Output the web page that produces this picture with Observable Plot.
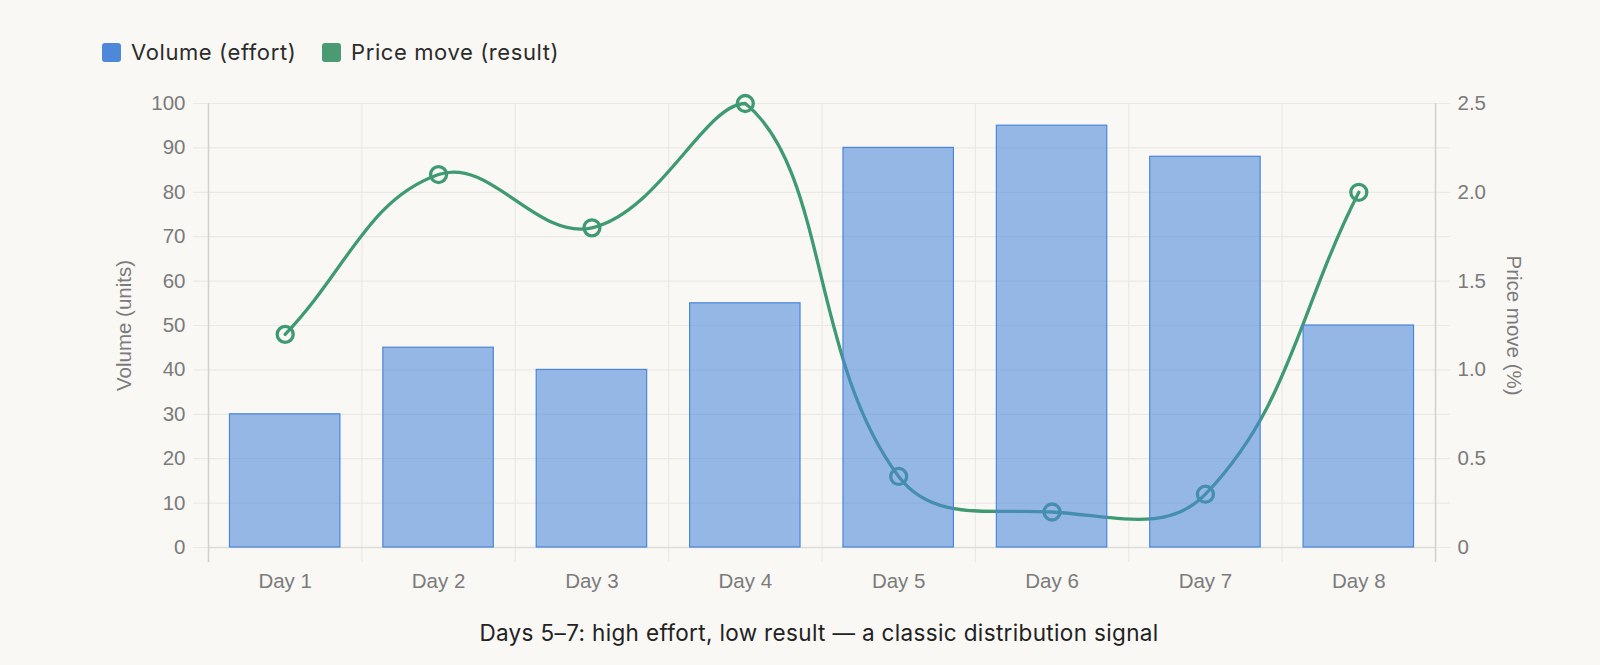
<!DOCTYPE html>
<html>
<head>
<meta charset="utf-8">
<script src="https://cdn.jsdelivr.net/npm/d3@7"></script>
<script src="https://cdn.jsdelivr.net/npm/@observablehq/plot@0.6"></script>
<style>
  html, body { margin: 0; padding: 0; background: #f9f8f5; width: 1600px; height: 665px; overflow: hidden; }
  #legend { height: 80px; position: relative; font-family: Inter, "Noto Sans", sans-serif; font-size: 22px; letter-spacing: 0.6px; color: #2b2b2b; }
  .item { position: absolute; top: 42px; height: 20px; display: flex; align-items: center; white-space: nowrap; }
  .sw { width: 19px; height: 19px; border-radius: 3px; margin-right: 10px; }
  #chart svg { display: block; }
  #caption { height: 65px; line-height: 65px; font-family: Inter, "Noto Sans", sans-serif; font-size: 22.5px; letter-spacing: 0.35px; color: #222; text-align: center; padding-left: 38px; }
</style>
</head>
<body>
<div id="legend"></div>
<div id="chart"></div>
<div id="caption"></div>
<script>
const days = ["Day 1", "Day 2", "Day 3", "Day 4", "Day 5", "Day 6", "Day 7", "Day 8"];
const volume = [30, 45, 40, 55, 90, 95, 88, 50];
const priceMove = [1.2, 2.1, 1.8, 2.5, 0.4, 0.2, 0.3, 2.0];
const volumeTicks = [0, 10, 20, 30, 40, 50, 60, 70, 80, 90, 100];
const priceTicks = [0, 0.5, 1.0, 1.5, 2.0, 2.5];
const seriesNames = ["Volume (effort)", "Price move (result)"];
const seriesColors = ["#4a86da", "#3f9a72"];
const axisTitles = ["Volume (units)", "Price move (%)"];
const captionText = "Days 5–7: high effort, low result — a classic distribution signal";

const volMax = 100, priceMax = 2.5;
const k = volMax / priceMax;

const W = 1600, H = 520, mT = 23, mB = 53, mL = 208, mR = 165;
const plotTop = mT, plotBottom = H - mB;

// Chart.js style spline (tension, distance-weighted), control points capped to chart area
function chartjsCurve(tension, top, bottom) {
  return function (context) {
    let pts = [];
    return {
      areaStart() {}, areaEnd() {},
      lineStart() { pts = []; },
      point(x, y) { pts.push([+x, +y]); },
      lineEnd() {
        const n = pts.length;
        if (!n) return;
        const cps = pts.map((p, i) => {
          const prev = pts[Math.max(0, i - 1)], next = pts[Math.min(n - 1, i + 1)];
          const d01 = Math.hypot(p[0] - prev[0], p[1] - prev[1]);
          const d12 = Math.hypot(next[0] - p[0], next[1] - p[1]);
          let s01 = d01 / (d01 + d12), s12 = d12 / (d01 + d12);
          if (isNaN(s01)) s01 = 0; if (isNaN(s12)) s12 = 0;
          const fa = tension * s01, fb = tension * s12;
          const c = (v) => Math.max(top, Math.min(bottom, v));
          return {
            prev: [p[0] - fa * (next[0] - prev[0]), c(p[1] - fa * (next[1] - prev[1]))],
            next: [p[0] + fb * (next[0] - prev[0]), c(p[1] + fb * (next[1] - prev[1]))]
          };
        });
        context.moveTo(pts[0][0], pts[0][1]);
        for (let i = 1; i < n; i++) {
          context.bezierCurveTo(cps[i - 1].next[0], cps[i - 1].next[1], cps[i].prev[0], cps[i].prev[1], pts[i][0], pts[i][1]);
        }
      }
    };
  };
}

const rows = days.map((d, i) => ({ day: d, i, volume: volume[i], price: priceMove[i] }));
const bandEdges = d3.range(days.length + 1);
const gridColor = "#ebe9e4";
const axisLineColor = "#d3d1cc";
const tickText = "#7b7b7b";
const font = "Liberation Sans, Arial, sans-serif";

const chart = Plot.plot({
  width: W, height: H,
  marginTop: mT, marginBottom: mB, marginLeft: mL, marginRight: mR,
  style: { background: "transparent", fontFamily: font, fontSize: "20px" },
  x: { type: "linear", domain: [0, days.length], axis: null },
  y: { domain: [0, volMax], axis: null },
  marks: [
    Plot.ruleY(volumeTicks, { y: d => d, stroke: gridColor, strokeWidth: 1.2, insetLeft: -15, insetRight: -15 }),
    Plot.ruleX(bandEdges, { x: d => d, stroke: gridColor, strokeWidth: 1.2, insetBottom: -15 }),
    Plot.ruleY([0], { stroke: "#dedcd7", strokeWidth: 1.5 }),
    Plot.ruleX([0, days.length], { stroke: axisLineColor, strokeWidth: 1.5, insetBottom: -15 }),
    Plot.axisY({ ticks: volumeTicks, tickSize: 0, tickPadding: 23, fill: tickText, fontSize: 20.5, label: null }),
    Plot.axisY({ anchor: "right", ticks: priceTicks.map(p => p * k), tickFormat: v => { const p = v / k; return p === 0 ? "0" : p.toFixed(1); }, tickSize: 0, tickPadding: 22, fill: tickText, fontSize: 20.5, label: null }),
    Plot.axisX({ ticks: days.map((_, i) => i + 0.5), tickFormat: v => days[Math.round(v - 0.5)], tickSize: 0, tickPadding: 26, fill: tickText, fontSize: 20.5, label: null }),
    Plot.text([axisTitles[0]], { frameAnchor: "left", dx: -84, rotate: -90, textAnchor: "middle", fill: tickText, fontSize: 20.5 }),
    Plot.text([axisTitles[1]], { frameAnchor: "right", dx: 78, rotate: 90, textAnchor: "middle", fill: tickText, fontSize: 20.5 }),
    Plot.line(rows, { x: d => d.i + 0.5, y: d => d.price * k, curve: chartjsCurve(0.4, plotTop, plotBottom), stroke: seriesColors[1], strokeWidth: 3.3 }),
    Plot.dot(rows, { x: d => d.i + 0.5, y: d => d.price * k, r: 8, stroke: seriesColors[1], strokeWidth: 3.3, fill: "none" }),
    Plot.rect(rows, { x1: d => d.i + 0.14, x2: d => d.i + 0.86, y1: 0, y2: "volume", fill: seriesColors[0], fillOpacity: 0.57, stroke: seriesColors[0], strokeWidth: 1.2 })
  ]
});
document.getElementById("chart").appendChild(chart);

// legend
const legend = document.getElementById("legend");
const legendX = [102, 322];
seriesNames.forEach((name, i) => {
  const item = document.createElement("div");
  item.className = "item";
  item.style.left = legendX[i] + "px";
  const sw = document.createElement("span");
  sw.className = "sw";
  sw.style.background = i === 0 ? "#4e88d8" : "#4a9a74";
  const t = document.createElement("span");
  t.textContent = name;
  item.appendChild(sw); item.appendChild(t);
  legend.appendChild(item);
});
document.getElementById("caption").textContent = captionText;
</script>
</body>
</html>
